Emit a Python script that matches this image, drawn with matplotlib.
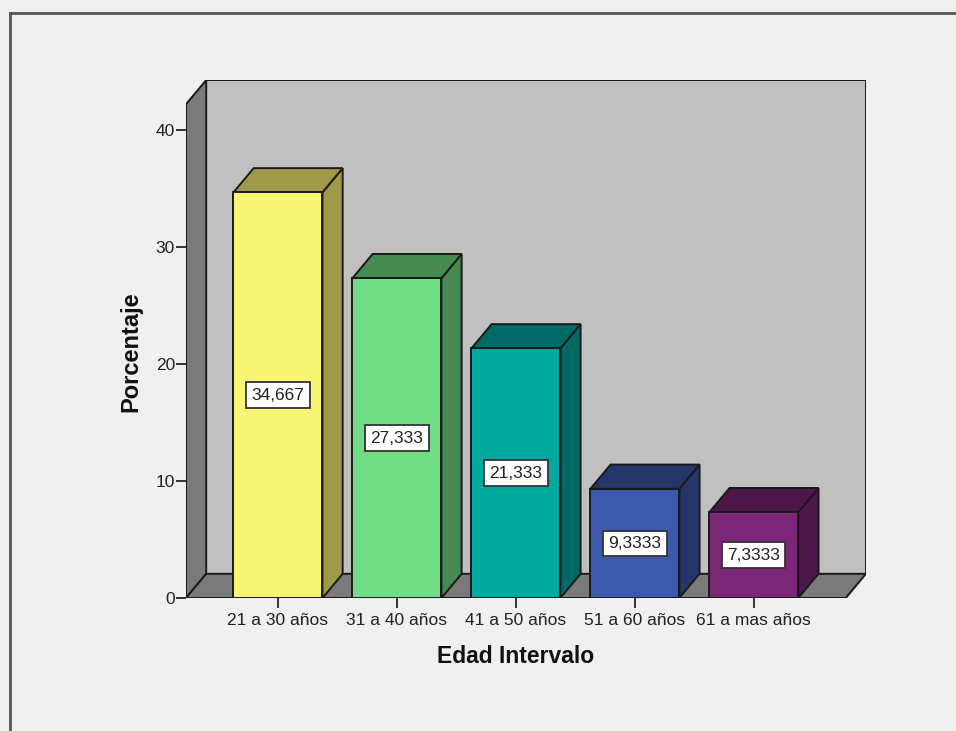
import matplotlib
matplotlib.use("Agg")
import matplotlib.pyplot as plt
from matplotlib.patches import Polygon, Rectangle
from matplotlib.lines import Line2D

# Age-interval distribution (percent)
categories = ["21 a 30 años", "31 a 40 años", "41 a 50 años", "51 a 60 años", "61 a mas años"]
percentages = [34.667, 27.333, 21.333, 9.3333, 7.3333]
y_ticks = [0, 10, 20, 30, 40]

front_colors = ["#faf675", "#70de84", "#00a8a0", "#3b5aad", "#7b2679"]
shade_colors = ["#9f9a48", "#468a52", "#006963", "#25366a", "#4d1848"]

BG = "#f0f0f0"
WALL_BACK = "#c0c0c0"
WALL_SIDE = "#7a7a7a"
EDGE = "#1a1a1a"
TEXT = "#222222"

plt.rcParams["font.family"] = ["Liberation Sans", "DejaVu Sans"]

fig = plt.figure(figsize=(9.56, 7.31), dpi=100, facecolor=BG)
ax = fig.add_axes([186 / 956, 1 - 598 / 731, 680 / 956, 518 / 731])
ax.set_facecolor("none")

# 3D box geometry in data units
x_lo, x_hi = -0.773, 4.773      # front plane extent
dx, dy = 0.170, 2.07            # depth offset
front_top = 42.2                # top of the front plane
bar_w = 0.748

ax.set_xlim(x_lo, x_hi + dx)
ax.set_ylim(0, front_top + dy)

lw = 1.4
# back wall
ax.add_patch(Rectangle((x_lo + dx, dy), x_hi - x_lo, front_top, facecolor=WALL_BACK,
                       edgecolor=EDGE, lw=lw, zorder=1))
# left wall
ax.add_patch(Polygon([(x_lo, 0), (x_lo + dx, dy), (x_lo + dx, front_top + dy), (x_lo, front_top)],
                     closed=True, facecolor=WALL_SIDE, edgecolor=EDGE, lw=lw, zorder=2))
# floor
ax.add_patch(Polygon([(x_lo, 0), (x_hi, 0), (x_hi + dx, dy), (x_lo + dx, dy)],
                     closed=True, facecolor=WALL_SIDE, edgecolor=EDGE, lw=lw, zorder=2))

# bars
for i, (v, fc, sc) in enumerate(zip(percentages, front_colors, shade_colors)):
    x0, x1 = i - bar_w / 2, i + bar_w / 2
    z = 3 + i
    ax.add_patch(Polygon([(x1, 0), (x1 + dx, dy), (x1 + dx, v + dy), (x1, v)],
                         closed=True, facecolor=sc, edgecolor=EDGE, lw=lw, zorder=z))
    ax.add_patch(Polygon([(x0, v), (x1, v), (x1 + dx, v + dy), (x0 + dx, v + dy)],
                         closed=True, facecolor=sc, edgecolor=EDGE, lw=lw, zorder=z))
    ax.add_patch(Rectangle((x0, 0), bar_w, v, facecolor=fc, edgecolor=EDGE, lw=lw, zorder=z))
    label = f"{v:.5g}".replace(".", ",")
    ax.text(i, v / 2, label, ha="center", va="center", fontsize=12.5, color=TEXT, zorder=20,
            bbox=dict(boxstyle="square,pad=0.3", facecolor="white", edgecolor="#333333", lw=1.3))

for s in ax.spines.values():
    s.set_visible(False)

ax.set_xticks(range(len(categories)))
ax.set_xticklabels(categories)
ax.set_yticks(y_ticks)
ax.tick_params(axis="both", direction="out", length=7, width=1.4, color="#333333",
               labelsize=12.5, labelcolor=TEXT)
ax.tick_params(axis="y", pad=1)
ax.tick_params(axis="x", pad=4)

ax.set_xlabel("Edad Intervalo", fontsize=16.5, fontweight="bold", color="#111111")
ax.set_ylabel("Porcentaje", fontsize=17, fontweight="bold", color="#111111")
ax.xaxis.set_label_coords((516 - 186) / 680, (598 - 645) / 518)
ax.yaxis.set_label_coords((142 - 186) / 680, (598 - 352) / 518)

# outer frame lines
fig.add_artist(Line2D([10 / 956, 1.0], [1 - 13 / 731, 1 - 13 / 731], color="#555555", lw=2,
                      transform=fig.transFigure))
fig.add_artist(Line2D([10 / 956, 10 / 956], [0, 1 - 13 / 731], color="#555555", lw=2,
                      transform=fig.transFigure))

fig.savefig("out.png", dpi=100, facecolor=BG)
